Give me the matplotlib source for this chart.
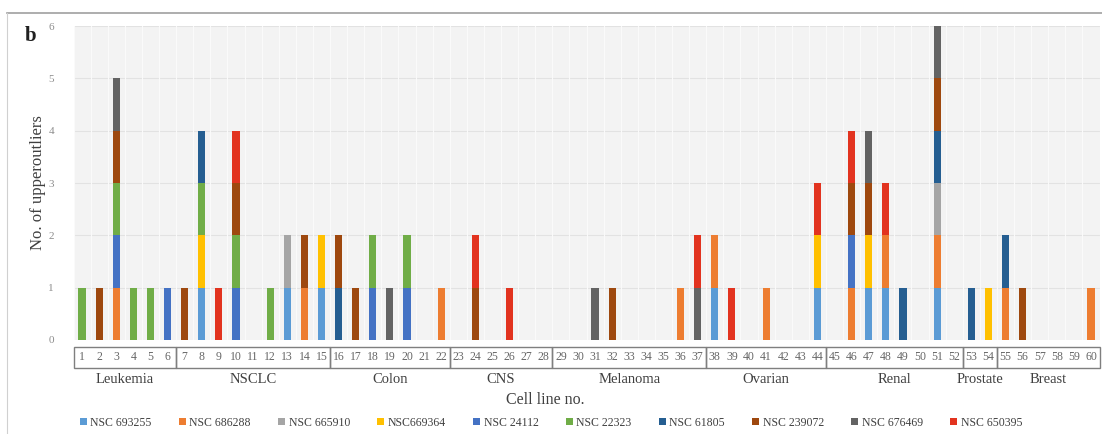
import numpy as np
import matplotlib
matplotlib.use("Agg")
import matplotlib.pyplot as plt
from matplotlib.patches import Rectangle
from matplotlib.lines import Line2D

plt.rcParams['font.family'] = ['Liberation Serif', 'DejaVu Serif']

# --- Data ---
cell_lines = list(range(1, 61))

series_names = ["NSC 693255", "NSC 686288", "NSC 665910", "NSC669364", "NSC 24112",
                "NSC 22323", "NSC 61805", "NSC 239072", "NSC 676469", "NSC 650395"]
series_colors = ["#5B9BD5", "#ED7D31", "#A5A5A5", "#FFC000", "#4472C4",
                 "#70AD47", "#255E91", "#9E480E", "#636363", "#E2331F"]

nsc_693255 = [0,0,0,0,0,0,0,1,0,0, 0,0,1,0,1,0,0,0,0,0, 0,0,0,0,0,0,0,0,0,0,
              0,0,0,0,0,0,0,1,0,0, 0,0,0,1,0,0,1,1,0,0, 1,0,0,0,0,0,0,0,0,0]
nsc_686288 = [0,0,1,0,0,0,0,0,0,0, 0,0,0,1,0,0,0,0,0,0, 0,1,0,0,0,0,0,0,0,0,
              0,0,0,0,0,1,0,1,0,0, 1,0,0,0,0,1,0,1,0,0, 1,0,0,0,1,0,0,0,0,1]
nsc_665910 = [0,0,0,0,0,0,0,0,0,0, 0,0,1,0,0,0,0,0,0,0, 0,0,0,0,0,0,0,0,0,0,
              0,0,0,0,0,0,0,0,0,0, 0,0,0,0,0,0,0,0,0,0, 1,0,0,0,0,0,0,0,0,0]
nsc_669364 = [0,0,0,0,0,0,0,1,0,0, 0,0,0,0,1,0,0,0,0,0, 0,0,0,0,0,0,0,0,0,0,
              0,0,0,0,0,0,0,0,0,0, 0,0,0,1,0,0,1,0,0,0, 0,0,0,1,0,0,0,0,0,0]
nsc_24112 = [0,0,1,0,0,1,0,0,0,1, 0,0,0,0,0,0,0,1,0,1, 0,0,0,0,0,0,0,0,0,0,
             0,0,0,0,0,0,0,0,0,0, 0,0,0,0,0,1,0,0,0,0, 0,0,0,0,0,0,0,0,0,0]
nsc_22323 = [1,0,1,1,1,0,0,1,0,1, 0,1,0,0,0,0,0,1,0,1, 0,0,0,0,0,0,0,0,0,0,
             0,0,0,0,0,0,0,0,0,0, 0,0,0,0,0,0,0,0,0,0, 0,0,0,0,0,0,0,0,0,0]
nsc_61805 = [0,0,0,0,0,0,0,1,0,0, 0,0,0,0,0,1,0,0,0,0, 0,0,0,0,0,0,0,0,0,0,
             0,0,0,0,0,0,0,0,0,0, 0,0,0,0,0,0,0,0,1,0, 1,0,1,0,1,0,0,0,0,0]
nsc_239072 = [0,1,1,0,0,0,1,0,0,1, 0,0,0,1,0,1,1,0,0,0, 0,0,0,1,0,0,0,0,0,0,
              0,1,0,0,0,0,0,0,0,0, 0,0,0,0,0,1,1,0,0,0, 1,0,0,0,0,1,0,0,0,0]
nsc_676469 = [0,0,1,0,0,0,0,0,0,0, 0,0,0,0,0,0,0,0,1,0, 0,0,0,0,0,0,0,0,0,0,
              1,0,0,0,0,0,1,0,0,0, 0,0,0,0,0,0,1,0,0,0, 1,0,0,0,0,0,0,0,0,0]
nsc_650395 = [0,0,0,0,0,0,0,0,1,1, 0,0,0,0,0,0,0,0,0,0, 0,0,0,1,0,1,0,0,0,0,
              0,0,0,0,0,0,1,0,1,0, 0,0,0,1,0,1,0,1,0,0, 0,0,0,0,0,0,0,0,0,0]

all_series = [nsc_693255, nsc_686288, nsc_665910, nsc_669364, nsc_24112,
              nsc_22323, nsc_61805, nsc_239072, nsc_676469, nsc_650395]

group_names = ["Leukemia", "NSCLC", "Colon", "CNS", "Melanoma",
               "Ovarian", "Renal", "Prostate", "Breast"]
group_sizes = [6, 9, 7, 6, 9, 7, 8, 2, 6]

# --- Figure ---
fig = plt.figure(figsize=(11.02, 4.34), dpi=100)
ax = fig.add_axes([0.0667, 0.2166, 0.9311, 0.7234])
ax.set_facecolor("#F3F3F3")

x = np.arange(len(cell_lines))
bottom = np.zeros(len(cell_lines))
for name, color, vals in zip(series_names, series_colors, all_series):
    vals = np.array(vals)
    ax.bar(x, vals, width=0.42, bottom=bottom, color=color, label=name, zorder=3)
    bottom += vals

ax.set_xlim(-0.5, len(cell_lines) - 0.5)
ax.set_ylim(0, 6)
ax.set_yticks(range(0, 7))
ax.tick_params(axis='y', length=0, pad=14, labelsize=8, labelcolor="#8C8C8C")
ax.set_xticks([])
for s in ax.spines.values():
    s.set_visible(False)

# gridlines
for k in range(1, 7):
    ax.axhline(k, color="#E2E2E2", lw=0.8, zorder=1)
for k in range(len(cell_lines) + 1):
    ax.axvline(k - 0.5, color="#FAFAFA", lw=0.8, zorder=1)

ax.set_ylabel("No. of upperoutliers", fontsize=12, color="#404040", labelpad=2)

# --- category table below axis ---
trans = ax.get_xaxis_transform()
row_top, row_bot = -0.022, -0.089
for i in x:
    ax.text(i, (row_top + row_bot) / 2, str(cell_lines[i]), transform=trans,
            ha='center', va='center', fontsize=8.5, color="#666666", clip_on=False)
start = 0
for gname, gsize in zip(group_names, group_sizes):
    ax.add_patch(Rectangle((start - 0.5, row_bot), gsize, row_top - row_bot,
                           transform=trans, fill=False, edgecolor="#7F7F7F",
                           lw=1.0, clip_on=False))
    ax.text(start - 0.5 + gsize / 2, -0.125, gname, transform=trans,
            ha='center', va='center', fontsize=10.5, color="#404040", clip_on=False)
    start += gsize

ax.text(0.46, -0.19, "Cell line no.", transform=ax.transAxes, ha='center',
        va='center', fontsize=11.5, color="#404040")

# legend
handles, labels = ax.get_legend_handles_labels()
fig.legend(handles, labels, loc='center', bbox_to_anchor=(0.5, 0.026), ncol=10,
           frameon=False, fontsize=8.5, handlelength=0.6, handleheight=0.6,
           handletextpad=0.3, columnspacing=2.3, labelcolor="#404040")

# panel label and frame
fig.text(0.022, 0.905, "b", fontsize=15, fontweight='bold', color="#202020")
fig.add_artist(Line2D([7 / 1102, 1.0], [1 - 13 / 434, 1 - 13 / 434],
                      transform=fig.transFigure, color="#A0A0A0", lw=1.2))
fig.add_artist(Line2D([7 / 1102, 7 / 1102], [0.0, 1 - 13 / 434],
                      transform=fig.transFigure, color="#D0D0D0", lw=0.8))

fig.savefig("out.png", dpi=100)
